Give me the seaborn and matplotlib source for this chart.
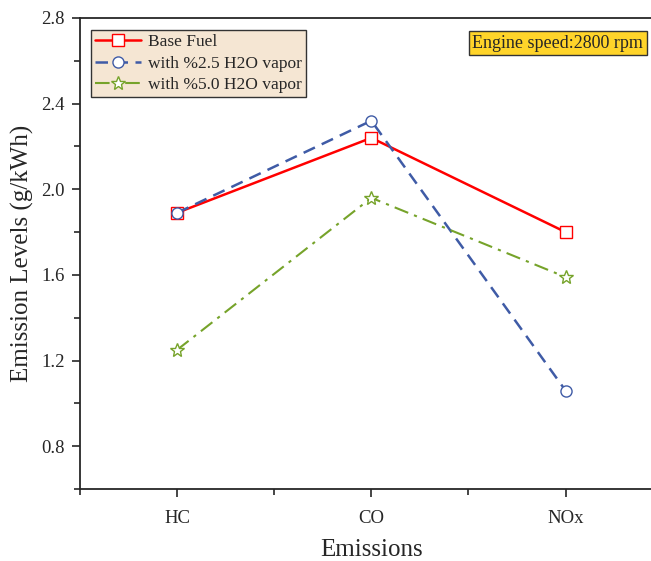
import numpy as np
import pandas as pd
import matplotlib.pyplot as plt
import seaborn as sns
from matplotlib.ticker import MultipleLocator

# dati
emissions = ['HC', 'CO', 'NOx']
base_fuel = [1.89, 2.24, 1.80]
h2o_25 = [1.89, 2.32, 1.06]
h2o_50 = [1.25, 1.96, 1.59]

sns.set_style('ticks')
plt.rcParams['font.family'] = ['Liberation Serif', 'DejaVu Serif']

fig = plt.figure(figsize=(6.51, 5.61), dpi=100)
ax = fig.add_axes([0.1229, 0.1283, 0.895, 0.8397])

series = [
    ('Base Fuel', base_fuel, '#FF0000', 's', None, 1.8, 8),
    ('with %2.5 H2O vapor', h2o_25, '#3F5BA6', 'o', (5, 3), 1.8, 8),
    ('with %5.0 H2O vapor', h2o_50, '#76A32A', '*', (7, 3, 1.5, 3), 1.5, 10),
]
for label, vals, color, marker, dash, lw, ms in series:
    df = pd.DataFrame({'Emissions': emissions, 'val': vals})
    sns.lineplot(data=df, x='Emissions', y='val', ax=ax, color=color, lw=lw,
                 marker=marker, markersize=ms,
                 markerfacecolor='white', markeredgecolor=color,
                 markeredgewidth=1.0, label=label)
    if dash is not None:
        ax.lines[-1].set_dashes(dash)

ax.set_xlim(-0.5, 2.5)
ax.set_ylim(0.6, 2.8)
ax.yaxis.set_major_locator(MultipleLocator(0.4))
ax.yaxis.set_minor_locator(MultipleLocator(0.2))
ax.set_xticks([0, 1, 2])
ax.set_xticklabels(emissions)
ax.xaxis.set_minor_locator(MultipleLocator(0.5))
ax.yaxis.set_major_formatter(plt.FuncFormatter(lambda v, p: f'{v:.1f}'))

for s in ax.spines.values():
    s.set_linewidth(1.3)
ax.spines['right'].set_visible(False)
ax.tick_params(which='major', direction='out', length=6, width=1.2, labelsize=13.5, pad=5)
ax.tick_params(which='minor', direction='out', length=4, width=1.2)
ax.tick_params(axis='x', pad=9)

ax.set_xlabel('Emissions', fontsize=18, labelpad=9)
ax.set_ylabel('Emission Levels (g/kWh)', fontsize=18, labelpad=5)

leg = ax.legend(loc='upper left', bbox_to_anchor=(0.019, 0.975), fontsize=12.5,
                frameon=True, fancybox=False, handlelength=2.6, handletextpad=0.4,
                borderpad=0.25, labelspacing=0.3, borderaxespad=0)
leg.get_frame().set_facecolor('#F5E6D3')
leg.get_frame().set_edgecolor('#333333')
leg.get_frame().set_alpha(1)

fig.text(0.988, 0.923, 'Engine speed:2800 rpm', ha='right', va='center', fontsize=13,
         bbox=dict(boxstyle='square,pad=0.2', facecolor='#FFD42A', edgecolor='#333333', lw=1))

fig.savefig('out.png', dpi=100)
